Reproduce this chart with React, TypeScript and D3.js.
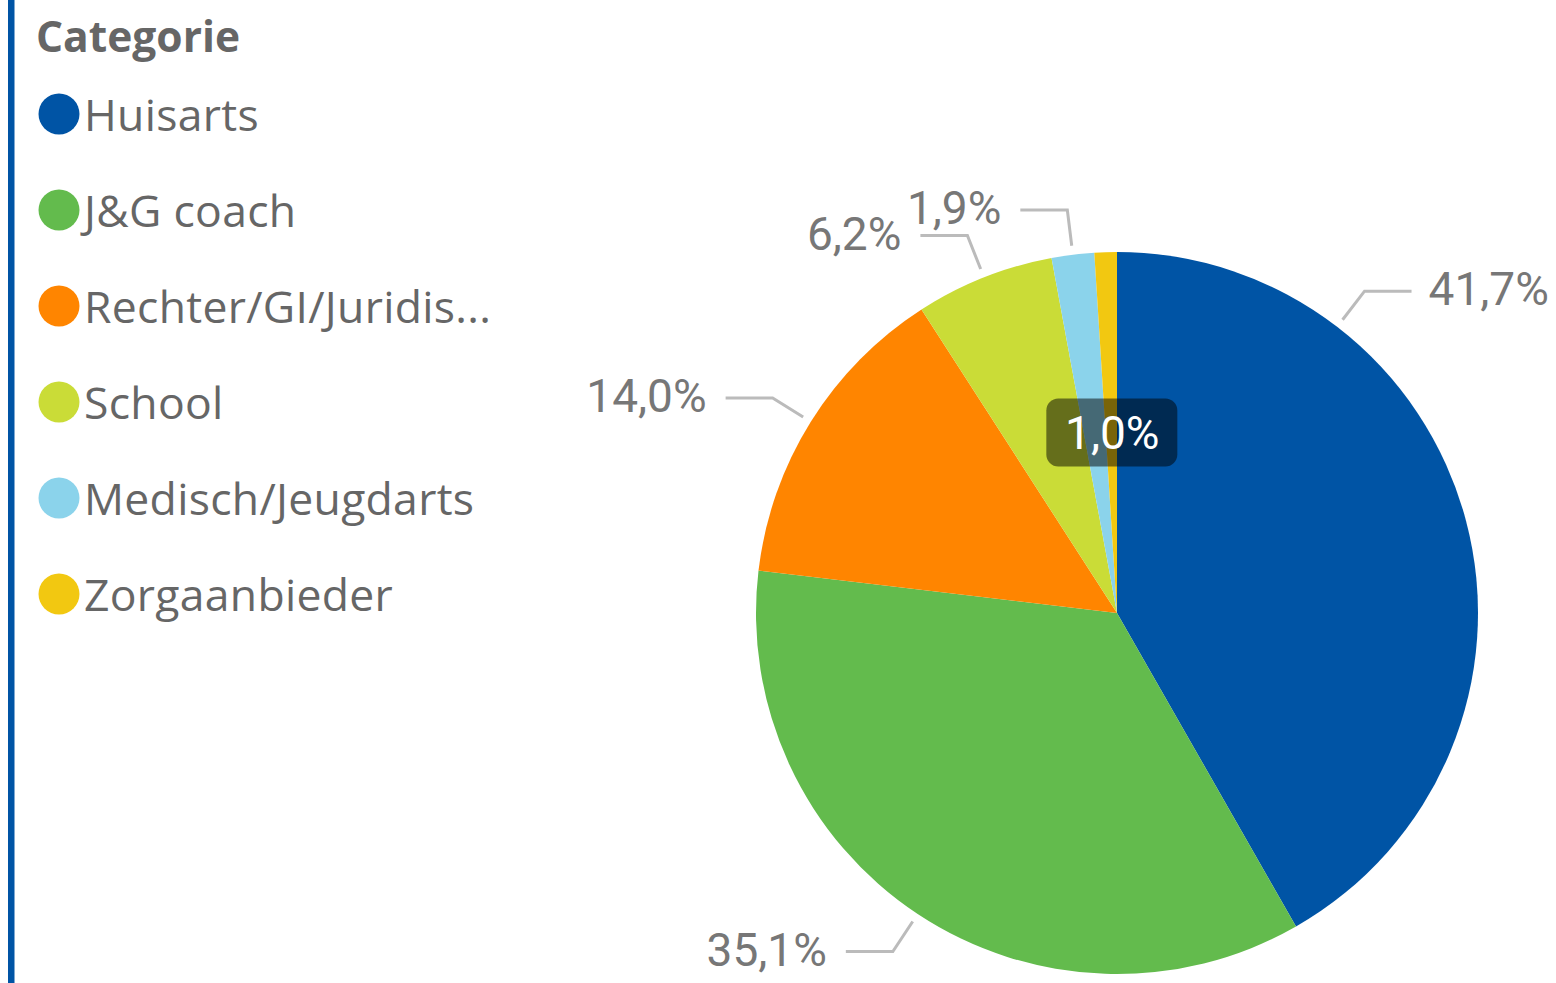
import React from "react";
import * as d3 from "d3";

const categories = ["Huisarts", "J&G coach", "Rechter/GI/Juridis...", "School", "Medisch/Jeugdarts", "Zorgaanbieder"];
const values = [41.7, 35.1, 14.0, 6.2, 1.9, 1.0];
const labels = ["41,7%", "35,1%", "14,0%", "6,2%", "1,9%", "1,0%"];
const colors = ["#0054A5", "#63BB4D", "#FF8500", "#CADC37", "#8BD3EB", "#F2C811"];
// label placement: "out" with leader line, or "in"; angle fraction within slice for leader start
const labelMode = ["out", "out", "out", "out", "out", "in"];
const labelFrac = [0.25, 0.5, 0.5, 0.5, 0.5, 0.5];

const W = 1556;
const H = 983;
const cx = 1117;
const cy = 613;
const R = 361;

export default function App() {
  const pie = d3.pie<number>().sort(null).value((d) => d).startAngle(0).endAngle(2 * Math.PI);
  const arcs = pie(values);
  const arcGen = d3.arc<d3.PieArcDatum<number>>().innerRadius(0).outerRadius(R);
  const pt = (a: number, r: number): [number, number] => [Math.sin(a) * r, -Math.cos(a) * r];
  const labelFont = "Roboto, 'DejaVu Sans', sans-serif";
  const legendFont = "'Open Sans', 'Noto Sans', sans-serif";

  return (
    <svg width={W} height={H} style={{ position: "absolute", left: 0, top: 0, background: "#fff" }}>
      <rect x={8} y={0} width={6.5} height={H} fill="#0054A5" />
      <text x={36} y={52} fontFamily={legendFont} fontWeight={700} fontSize={42.5} fill="#666">
        Categorie
      </text>
      {categories.map((c, i) => (
        <g key={c} transform={`translate(0, ${114 + i * 96})`}>
          <circle cx={59} cy={0} r={20.5} fill={colors[i]} />
          <text x={84} y={17} fontFamily={legendFont} fontSize={44.5} letterSpacing={0.3} fill="#666">
            {c}
          </text>
        </g>
      ))}
      <g transform={`translate(${cx}, ${cy})`}>
        {arcs.map((a, i) => (
          <path key={i} d={arcGen(a) || ""} fill={colors[i]} />
        ))}
        {arcs.map((a, i) => {
          if (labelMode[i] === "in") {
            const mid = (a.startAngle + a.endAngle) / 2;
            const [x, y] = pt(mid, R * 0.5);
            return (
              <g key={"l" + i} transform={`translate(${x}, ${y})`}>
                <rect x={-65} y={-34} width={131} height={68} rx={12} fill="#000" fillOpacity={0.5} />
                <text x={1} y={16} textAnchor="middle" fontFamily={labelFont} fontSize={46} fill="#fff">
                  {labels[i]}
                </text>
              </g>
            );
          }
          const ang = a.startAngle + (a.endAngle - a.startAngle) * labelFrac[i];
          const p0 = pt(ang, R + 9);
          const p1 = pt(ang, R + 45);
          const right = Math.sin(ang) > 0;
          const p2: [number, number] = [p1[0] + (right ? 47 : -47), p1[1]];
          const tx = p2[0] + (right ? 17 : -19);
          return (
            <g key={"l" + i}>
              <polyline
                points={[p0, p1, p2].map((p) => p.join(",")).join(" ")}
                fill="none"
                stroke="#BBBBBB"
                strokeWidth={3}
              />
              <text
                x={tx}
                y={p1[1] + 14}
                textAnchor={right ? "start" : "end"}
                fontFamily={labelFont}
                fontSize={46}
                fill="#777"
              >
                {labels[i]}
              </text>
            </g>
          );
        })}
      </g>
    </svg>
  );
}
